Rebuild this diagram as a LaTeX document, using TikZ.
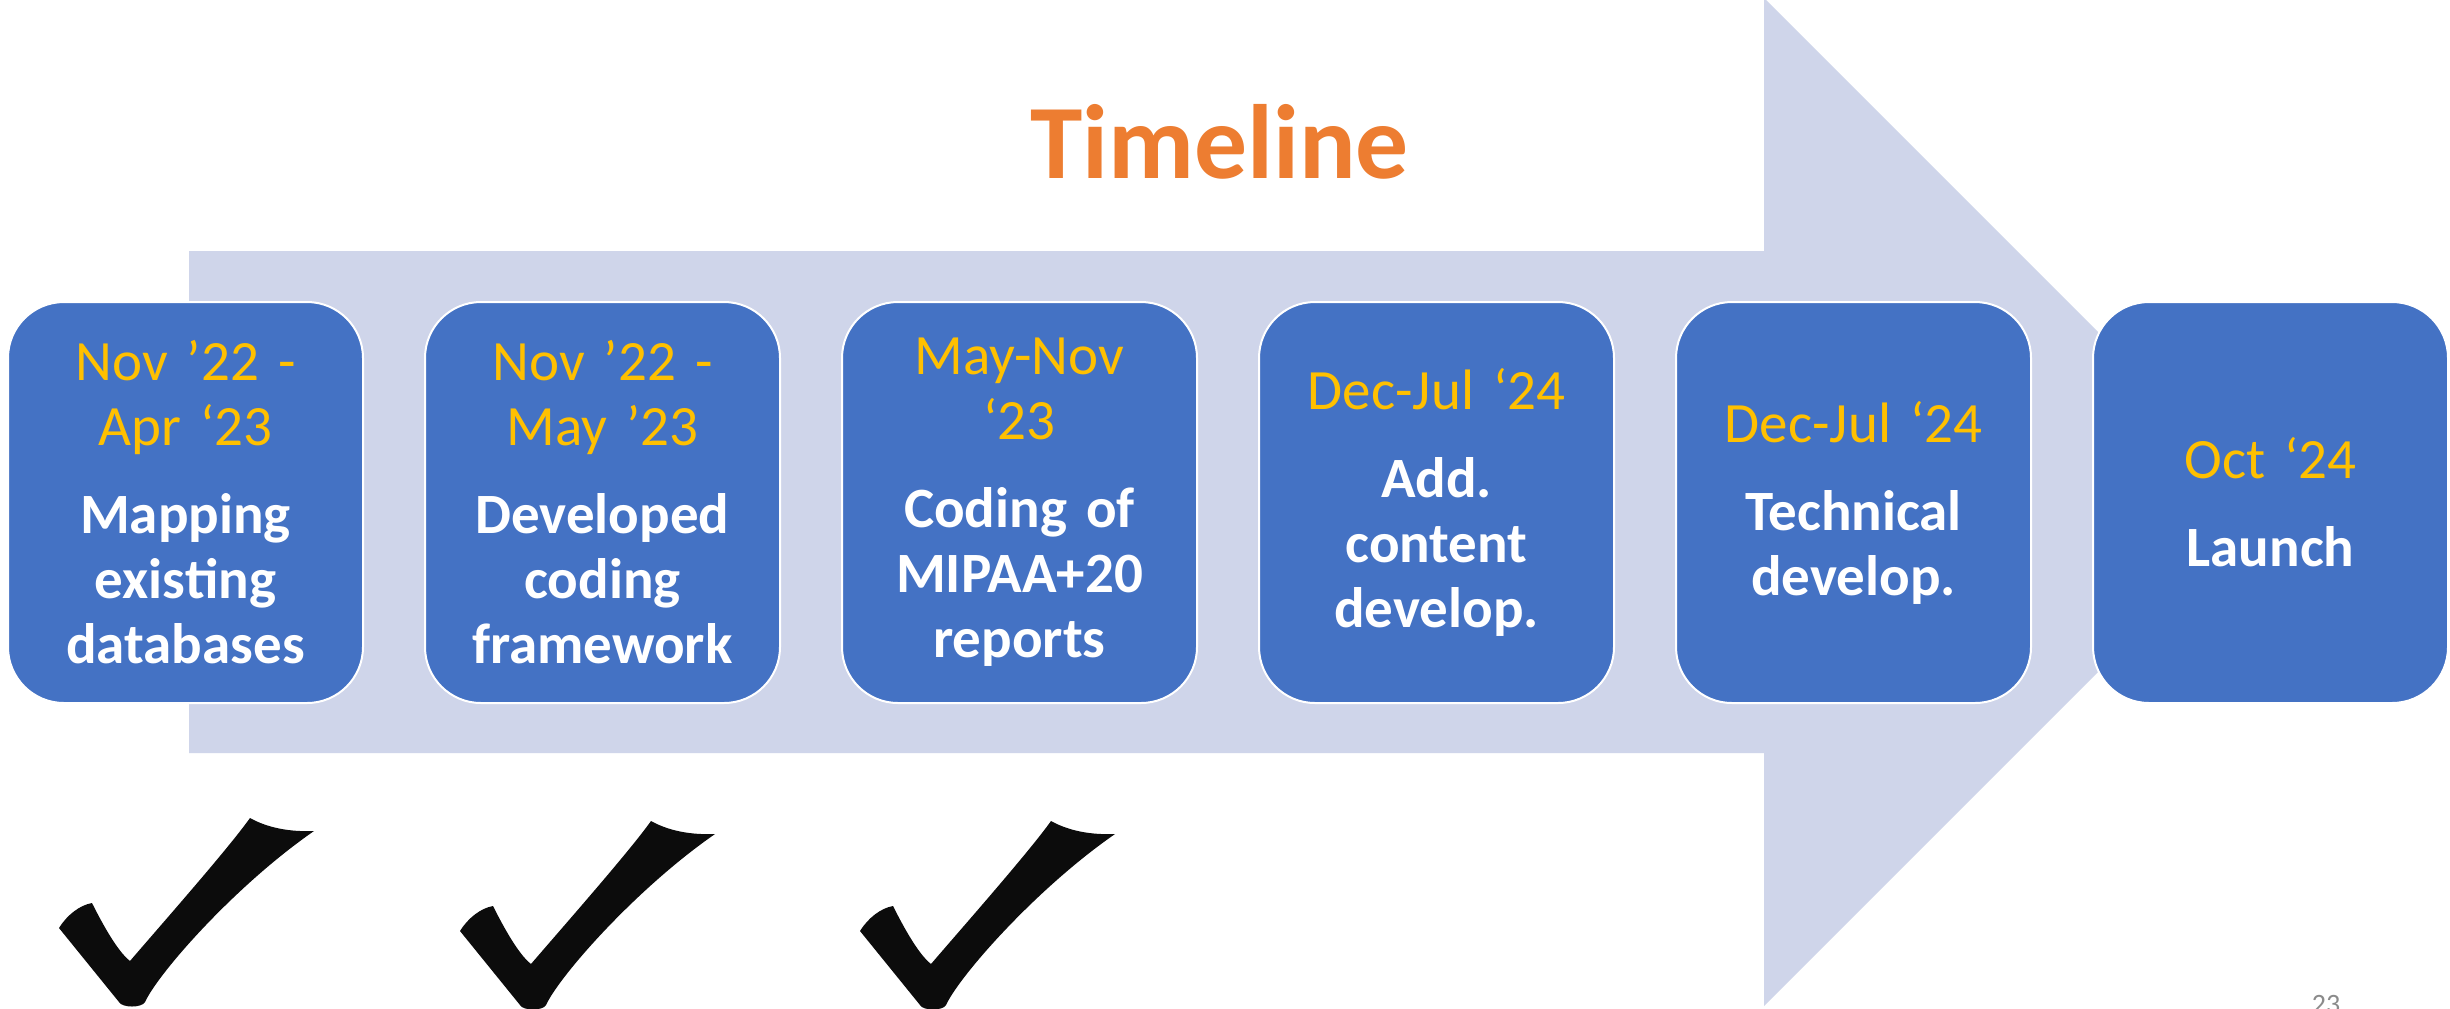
\documentclass[tikz,border=0pt]{standalone}
\usepackage{fontspec}
\setmainfont{Carlito}
\definecolor{arrowfill}{HTML}{CFD5EA}
\definecolor{boxblue}{HTML}{4472C4}
\definecolor{gold}{HTML}{FFC000}
\definecolor{titleorange}{HTML}{ED7D31}
\definecolor{pagegrey}{HTML}{8B8B8B}
\definecolor{checkblack}{HTML}{0C0C0C}
\newcommand\tldate[1]{{\mdseries\color{gold}#1\par}\vspace{11.5pt}}
\newcommand\tltask[1]{{\bfseries\color{white}#1\par}}
\tikzset{
  tlbox/.style={draw=white, line width=1pt, fill=boxblue, rounded corners=28pt,
    minimum width=177.5pt, minimum height=200.5pt, inner sep=0pt,
    text width=172pt, align=center, text=white,
    font=\fontsize{28.5}{32.5}\selectfont},
  checkmk/.pic={\fill[checkblack] (-71,-33) .. controls (-63,-46) and (-50,-56) .. (-38,-58)
     .. controls (-29,-40) and (-13,-10) .. (0,0)
     .. controls (30,-35) and (98,-112) .. (120,-143)
     .. controls (138,-133) and (160,-129) .. (184,-130)
     .. controls (106,-76) and (29,11) .. (15,41)
     .. controls (12,47) and (-8,47) .. (-11,41) -- cycle;}
}
\begin{document}
\begin{tikzpicture}[x=0.5pt,y=-0.5pt]
\useasboundingbox (0,0) rectangle (2450,1008);
\fill[white] (0,0) rectangle (2450,1008);
% big arrow
\fill[arrowfill] (189,251) -- (1764,251) -- (1764,-2) -- (2268,502) -- (1764,1006) -- (1764,753) -- (189,753) -- cycle;
% title
\node[anchor=base, inner sep=0pt, text=titleorange, font=\bfseries\fontsize{52.8}{60}\selectfont] (title) at (1219.5,178) {Timeline};
% boxes
\node[tlbox] (b1) at (185.5,502.5) {\tldate{Nov ’22 -\\Apr ‘23}\tltask{Mapping\\existing\\databases}};
\node[tlbox] (b2) at (602.5,502.5) {\tldate{Nov ’22 -\\May ’23}\tltask{Developed\\coding\\framework}};
\node[tlbox] (b3) at (1019.5,502.5) {\tldate{May-Nov\\‘23}\tltask{Coding of\\MIPAA+20\\reports}};
\node[tlbox] (b4) at (1436.5,502.5) {\tldate{Dec-Jul ‘24}\tltask{Add.\\content\\develop.}};
\node[tlbox] (b5) at (1853.5,502.5) {\tldate{Dec-Jul ‘24}\tltask{Technical\\develop.}};
\node[tlbox] (b6) at (2270.5,502.5) {\tldate{Oct ‘24}\tltask{Launch}};
% check marks
\pic (c1) at (130,961) {checkmk};
\pic (c2) at (531,964) {checkmk};
\pic (c3) at (931,964) {checkmk};
% page number
\node[anchor=base, inner sep=0pt, text=pagegrey, font=\fontsize{14}{17}\selectfont] (page) at (2326,1013) {23};
\end{tikzpicture}
\end{document}
